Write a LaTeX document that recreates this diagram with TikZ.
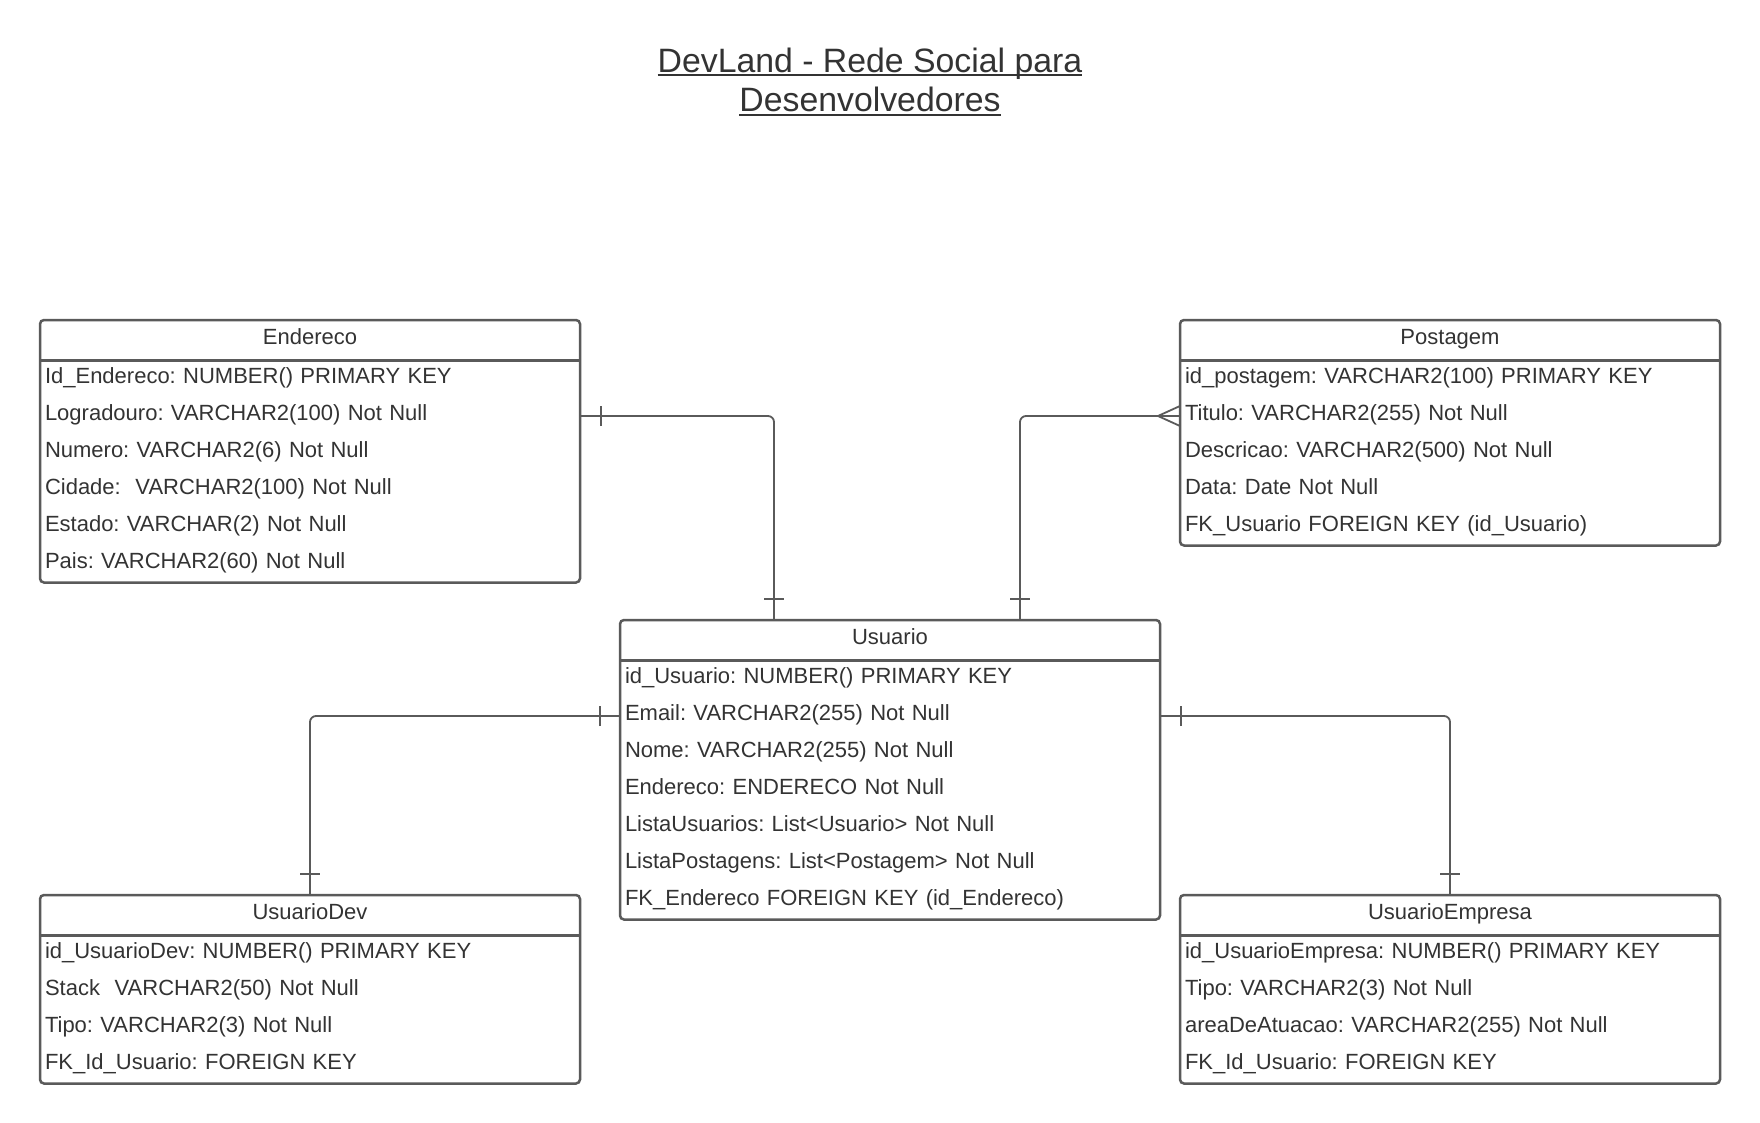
\documentclass[tikz,border=0pt]{standalone}
\usepackage{fontspec}
\setmainfont{Liberation Sans}
\frenchspacing
\definecolor{bordc}{HTML}{5A5A5A}
\definecolor{txtc}{HTML}{333333}
\newcommand\myul[1]{\setbox0=\hbox{#1}\rlap{\color{txtc}\rule[-3.7pt]{\wd0}{2pt}}\box0}
\begin{document}
\begin{tikzpicture}[x=1pt,y=-1pt,
  ent/.style={draw=bordc, line width=2.5pt, rounded corners=4pt, minimum width=540pt, inner sep=0pt, outer sep=0pt, anchor=north west},
  sepline/.style={draw=bordc, line width=2.5pt},
  row/.style={anchor=north west, inner xsep=5pt, inner ysep=0pt, outer sep=0pt, text width=530pt, align=left, minimum height=37pt, text height=22.6pt, text depth=14.4pt, font=\fontsize{22}{26}\selectfont\frenchspacing, text=txtc},
  hdr/.style={anchor=base, inner sep=0pt, font=\fontsize{22}{26}\selectfont, text=txtc},
  ttl/.style={anchor=base, inner sep=0pt, font=\fontsize{33.8}{40}\selectfont, text=txtc},
  conn/.style={draw=bordc, line width=1.8pt, rounded corners=6pt},
  onebar/.style={draw=bordc, line width=1.8pt}
]
\fill[white] (0,0) rectangle (1760,1123);
\useasboundingbox (0,0) rectangle (1760,1123);

% title
\node[ttl] (t1) at (870,72.5) {\myul{DevLand - Rede Social para}};
\node[ttl] (t2) at (870,112) {\myul{Desenvolvedores}};

% Endereco
\node[ent, minimum height=262.5pt] (end) at (40,320) {};
\node[hdr] (endH) at (310,344.5) {Endereco};
\node[row] (end1) at (40,360.5) {Id\_Endereco: NUMBER() PRIMARY KEY};
\node[row] (end2) at (40,397.5) {Logradouro: VARCHAR2(100) Not Null};
\node[row] (end3) at (40,434.5) {Numero: VARCHAR2(6) Not Null};
\node[row] (end4) at (40,471.5) {Cidade:~ VARCHAR2(100) Not Null};
\node[row] (end5) at (40,508.5) {Estado: VARCHAR(2) Not Null};
\node[row] (end6) at (40,545.5) {Pais: VARCHAR2(60) Not Null};
\draw[sepline] (end1.north west) -- (end1.north east);

% Postagem
\node[ent, minimum height=225.5pt] (pos) at (1180,320) {};
\node[hdr] (posH) at (1450,344.5) {Postagem};
\node[row] (pos1) at (1180,360.5) {id\_postagem: VARCHAR2(100) PRIMARY KEY};
\node[row] (pos2) at (1180,397.5) {Titulo: VARCHAR2(255) Not Null};
\node[row] (pos3) at (1180,434.5) {Descricao: VARCHAR2(500) Not Null};
\node[row] (pos4) at (1180,471.5) {Data: Date Not Null};
\node[row] (pos5) at (1180,508.5) {FK\_Usuario FOREIGN KEY (id\_Usuario)};
\draw[sepline] (pos1.north west) -- (pos1.north east);

% Usuario
\node[ent, minimum height=299.5pt] (usr) at (620,620) {};
\node[hdr] (usrH) at (890,644.5) {Usuario};
\node[row] (usr1) at (620,660.5) {id\_Usuario: NUMBER() PRIMARY KEY};
\node[row] (usr2) at (620,697.5) {Email: VARCHAR2(255) Not Null};
\node[row] (usr3) at (620,734.5) {Nome: VARCHAR2(255) Not Null};
\node[row] (usr4) at (620,771.5) {Endereco: ENDERECO Not Null};
\node[row] (usr5) at (620,808.5) {ListaUsuarios: List<Usuario> Not Null};
\node[row] (usr6) at (620,845.5) {ListaPostagens: List<Postagem> Not Null};
\node[row] (usr7) at (620,882.5) {FK\_Endereco FOREIGN KEY (id\_Endereco)};
\draw[sepline] (usr1.north west) -- (usr1.north east);

% UsuarioDev
\node[ent, minimum height=188.5pt] (dev) at (40,895) {};
\node[hdr] (devH) at (310,919.5) {UsuarioDev};
\node[row] (dev1) at (40,935.5) {id\_UsuarioDev: NUMBER() PRIMARY KEY};
\node[row] (dev2) at (40,972.5) {Stack~ VARCHAR2(50) Not Null};
\node[row] (dev3) at (40,1009.5) {Tipo: VARCHAR2(3) Not Null};
\node[row] (dev4) at (40,1046.5) {FK\_Id\_Usuario: FOREIGN KEY};
\draw[sepline] (dev1.north west) -- (dev1.north east);

% UsuarioEmpresa
\node[ent, minimum height=188.5pt] (emp) at (1180,895) {};
\node[hdr] (empH) at (1450,919.5) {UsuarioEmpresa};
\node[row] (emp1) at (1180,935.5) {id\_UsuarioEmpresa: NUMBER() PRIMARY KEY};
\node[row] (emp2) at (1180,972.5) {Tipo: VARCHAR2(3) Not Null};
\node[row] (emp3) at (1180,1009.5) {areaDeAtuacao: VARCHAR2(255) Not Null};
\node[row] (emp4) at (1180,1046.5) {FK\_Id\_Usuario: FOREIGN KEY};
\draw[sepline] (emp1.north west) -- (emp1.north east);

% connection points on top of Usuario
\coordinate (uA) at ([xshift=154pt]usr.north west);
\coordinate (uB) at ([xshift=400pt]usr.north west);

% Endereco -- Usuario
\draw[conn] (end2.east) -| (uA);
\draw[onebar] ([xshift=21pt,yshift=-10pt]end2.east) -- ([xshift=21pt,yshift=10pt]end2.east);
\draw[onebar] ([xshift=-10pt,yshift=21pt]uA) -- ([xshift=10pt,yshift=21pt]uA);

% Postagem -- Usuario
\draw[conn] (pos2.west) -| (uB);
\draw[onebar] ([yshift=10pt]pos2.west) -- ([xshift=-22pt]pos2.west) -- ([yshift=-10pt]pos2.west);
\draw[onebar] ([xshift=-10pt,yshift=21pt]uB) -- ([xshift=10pt,yshift=21pt]uB);

% Usuario -- UsuarioDev
\draw[conn] (usr2.west) -| (dev.north);
\draw[onebar] ([xshift=-20pt,yshift=-10pt]usr2.west) -- ([xshift=-20pt,yshift=10pt]usr2.west);
\draw[onebar] ([xshift=-10pt,yshift=21pt]dev.north) -- ([xshift=10pt,yshift=21pt]dev.north);

% Usuario -- UsuarioEmpresa
\draw[conn] (usr2.east) -| (emp.north);
\draw[onebar] ([xshift=21pt,yshift=-10pt]usr2.east) -- ([xshift=21pt,yshift=10pt]usr2.east);
\draw[onebar] ([xshift=-10pt,yshift=21pt]emp.north) -- ([xshift=10pt,yshift=21pt]emp.north);
\end{tikzpicture}
\end{document}
